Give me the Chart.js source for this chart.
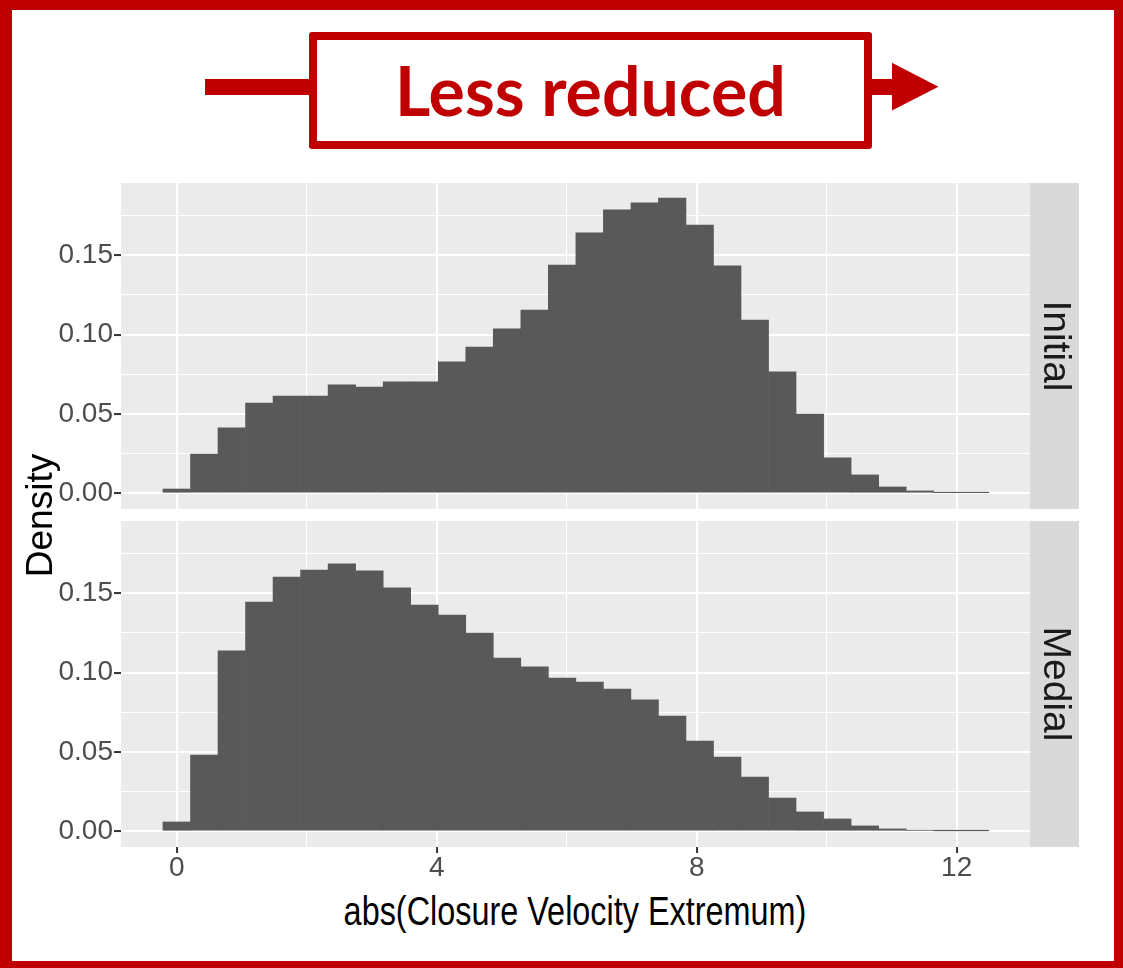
<!DOCTYPE html>
<html>
<head>
<meta charset="utf-8">
<title>abs(Closure Velocity Extremum) density by phase</title>
<script src="https://cdn.jsdelivr.net/npm/chart.js@4.4.1/dist/chart.umd.min.js"></script>
<style>
  html, body { margin: 0; padding: 0; background: #ffffff; }
  #page {
    position: relative; width: 1123px; height: 968px; overflow: hidden;
    background: #ffffff; font-family: "Liberation Sans", Arial, sans-serif;
  }
  #frame {
    position: absolute; left: 0; top: 0; width: 1123px; height: 968px;
    box-sizing: border-box; border-style: solid; border-color: #C00000;
    border-width: 10px 9px 7px 12px; pointer-events: none;
  }
  #arrow { position: absolute; left: 0; top: 0; }
  #banner {
    position: absolute; left: 309px; top: 32px; width: 563px; height: 117px;
    box-sizing: border-box; border: 8px solid #C00000; border-radius: 3px;
    background: #ffffff; display: flex; align-items: center; justify-content: center;
  }
  #banner span {
    position: relative; top: -1px;
    font-family: Lato, "Open Sans", sans-serif; font-weight: 700;
    font-size: 68px; line-height: 68px; color: #C00000; white-space: nowrap;
  }
  canvas { position: absolute; }
  #topChart { left: 0; top: 175px; }
  #bottomChart { left: 0; top: 515px; }
  #xTitle {
    position: absolute; left: 175px; top: 891px; width: 800px; height: 40px;
    text-align: center; font-size: 40px; line-height: 40px; color: #000000;
    transform: scaleX(0.81); white-space: nowrap;
  }
  #yTitle {
    position: absolute; left: -61px; top: 496.5px; width: 200px; height: 37px;
    text-align: center; font-size: 37px; line-height: 37px; color: #000000;
    transform: rotate(-90deg); white-space: nowrap;
  }
</style>
</head>
<body>
<div id="page">
  <svg id="arrow" width="1123" height="180" viewBox="0 0 1123 180">
    <rect x="205" y="79" width="110" height="16" fill="#C00000"/>
    <rect x="866" y="79" width="27" height="16" fill="#C00000"/>
    <polygon points="892,62.7 938.4,86.7 892,110.5" fill="#C00000"/>
  </svg>
  <div id="banner"><span>Less reduced</span></div>

  <canvas id="topChart" width="1090" height="340"></canvas>
  <canvas id="bottomChart" width="1090" height="372"></canvas>

  <div id="yTitle">Density</div>
  <div id="xTitle">abs(Closure Velocity Extremum)</div>

  <div id="frame"></div>
</div>

<script>
// Histogram bins (30 bins, width ~0.4235) and density per facet
const binCenters = [0, 0.424, 0.847, 1.271, 1.694, 2.118, 2.541, 2.965, 3.388, 3.812,
                    4.235, 4.659, 5.082, 5.506, 5.929, 6.353, 6.776, 7.200, 7.623, 8.047,
                    8.470, 8.894, 9.317, 9.741, 10.164, 10.588, 11.011, 11.435, 11.858, 12.282];

const initialDensity = [0.0027, 0.0248, 0.0412, 0.0569, 0.0613, 0.0613, 0.0683, 0.0670, 0.0702, 0.0702,
                        0.0828, 0.0922, 0.1036, 0.1155, 0.1439, 0.1641, 0.1786, 0.1830, 0.1861, 0.1691,
                        0.1433, 0.1092, 0.0765, 0.0500, 0.0223, 0.0116, 0.0040, 0.0015, 0.0004, 0.0004];

const medialDensity = [0.0059, 0.0481, 0.1137, 0.1445, 0.1603, 0.1647, 0.1685, 0.1641, 0.1534, 0.1426,
                       0.1363, 0.1250, 0.1092, 0.1036, 0.0966, 0.0941, 0.0897, 0.0828, 0.0727, 0.0569,
                       0.0468, 0.0342, 0.0210, 0.0122, 0.0078, 0.0034, 0.0015, 0.0006, 0.0003, 0.0003];

const facetLabels = ['Initial', 'Medial'];

const xTickValues = [0, 4, 8, 12];
const xTickLabels = ['0', '4', '8', '12'];
const xMinorValues = [2, 6, 10];

const yTickValues = [0, 0.05, 0.10, 0.15];
const yTickLabels = ['0.00', '0.05', '0.10', '0.15'];
const yMinorValues = [0.025, 0.075, 0.125, 0.175];

// Axis limits (data range plus 5% expansion)
const X_MIN = -0.857, X_MAX = 13.128;
const Y_MIN = -0.00989, Y_MAX = 0.19557;

Chart.defaults.font.family = '"Liberation Sans", Arial, sans-serif';

const PANEL_BG = '#EBEBEB';
const STRIP_BG = '#D9D9D9';
const BAR_FILL = '#595959';

// Grey panel background plus the facet strip on the right-hand side
const facetDecor = {
  id: 'facetDecor',
  beforeDraw(chart, args, opts) {
    const { ctx, chartArea: a } = chart;
    ctx.save();
    ctx.fillStyle = PANEL_BG;
    ctx.fillRect(a.left, a.top, a.right - a.left, a.bottom - a.top);
    ctx.fillStyle = STRIP_BG;
    ctx.fillRect(a.right, a.top, opts.stripWidth, a.bottom - a.top);
    ctx.translate(a.right + opts.stripWidth / 2, (a.top + a.bottom) / 2);
    ctx.rotate(Math.PI / 2);
    ctx.fillStyle = '#1A1A1A';
    ctx.font = '39px "Liberation Sans", Arial, sans-serif';
    ctx.textAlign = 'center';
    ctx.textBaseline = 'middle';
    ctx.fillText(opts.label, 0, 0);
    ctx.restore();
  }
};

const sortedUnion = (a, b) => a.concat(b).sort((p, q) => p - q);
const xGridValues = sortedUnion(xTickValues, xMinorValues);
const yGridValues = sortedUnion(yTickValues, yMinorValues);
const isMajorX = v => xTickValues.indexOf(v) !== -1;
const isMajorY = v => yTickValues.indexOf(v) !== -1;

// Panels are placed by layout padding alone; labels may overhang the panel edges
const noOverhang = s => {
  s.paddingTop = 0; s.paddingBottom = 0; s.paddingLeft = 0; s.paddingRight = 0;
};

function makeFacet(canvasId, label, values, showX, padding, xAxisHeight) {
  return new Chart(document.getElementById(canvasId), {
    type: 'bar',
    data: {
      datasets: [{
        label: label,
        data: binCenters.map((x, i) => ({ x: x, y: values[i] })),
        backgroundColor: BAR_FILL,
        borderWidth: 0,
        barPercentage: 1,
        categoryPercentage: 1
      }]
    },
    options: {
      responsive: false,
      animation: false,
      devicePixelRatio: 1,
      layout: { padding: padding },
      plugins: {
        legend: { display: false },
        tooltip: { enabled: false },
        facetDecor: { label: label, stripWidth: 49 }
      },
      scales: {
        x: {
          type: 'linear',
          min: X_MIN, max: X_MAX,
          offset: false,
          afterBuildTicks: s => { s.ticks = xGridValues.map(v => ({ value: v })); },
          afterFit: s => { s.height = xAxisHeight; noOverhang(s); },
          border: { display: false },
          grid: {
            offset: false,
            color: '#FFFFFF',
            lineWidth: c => (c.tick && isMajorX(c.tick.value)) ? 2.1 : 1.1,
            drawTicks: showX,
            tickLength: 6,
            tickWidth: 2,
            tickColor: c => (c.tick && isMajorX(c.tick.value)) ? '#333333' : 'rgba(0,0,0,0)'
          },
          ticks: {
            display: showX,
            autoSkip: false,
            maxRotation: 0,
            padding: 0,
            color: '#4D4D4D',
            font: { size: 28, lineHeight: 1.1 },
            callback: v => { const i = xTickValues.indexOf(v); return i === -1 ? '' : xTickLabels[i]; }
          }
        },
        y: {
          min: Y_MIN, max: Y_MAX,
          afterBuildTicks: s => { s.ticks = yGridValues.map(v => ({ value: v })); },
          afterFit: s => { s.width = 121; noOverhang(s); },
          border: { display: false },
          grid: {
            color: '#FFFFFF',
            lineWidth: c => (c.tick && isMajorY(c.tick.value)) ? 2.1 : 1.1,
            drawTicks: true,
            tickLength: 7,
            tickWidth: 2,
            tickColor: c => (c.tick && isMajorY(c.tick.value)) ? '#333333' : 'rgba(0,0,0,0)'
          },
          ticks: {
            autoSkip: false,
            padding: 1,
            color: '#4D4D4D',
            font: { size: 28 },
            callback: v => { const i = yTickValues.indexOf(v); return i === -1 ? '' : yTickLabels[i]; }
          }
        }
      }
    },
    plugins: [facetDecor]
  });
}

makeFacet('topChart', facetLabels[0], initialDensity, false,
          { top: 8, right: 60, bottom: 6, left: 0 }, 0);
makeFacet('bottomChart', facetLabels[1], medialDensity, true,
          { top: 6, right: 60, bottom: 0, left: 0 }, 40);
</script>
</body>
</html>
